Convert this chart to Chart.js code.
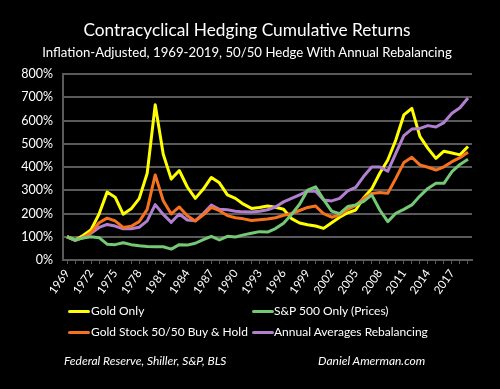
<!DOCTYPE html>
<html>
<head>
<meta charset="utf-8">
<script src="https://cdn.jsdelivr.net/npm/chart.js@4.4.1/dist/chart.umd.min.js"></script>
<style>
  html, body { margin: 0; padding: 0; background: #000; }
  #wrap { position: relative; width: 500px; height: 389px; background: #000; overflow: hidden; font-family: Lato, "Open Sans", sans-serif; color: #fff; }
  #c { position: absolute; left: 0; top: 0; }
  .t { position: absolute; white-space: nowrap; color: #fff; }
  #title { left: 0; width: 494px; text-align: center; top: 19px; font-size: 17.3px; }
  #sub { left: 0; width: 494px; text-align: center; top: 44px; font-size: 13.2px; }
  .lg { position: absolute; white-space: nowrap; font-size: 12px; color: #fff; }
  .sw { position: absolute; width: 22px; height: 3px; border-radius: 2px; }
  .ft { position: absolute; white-space: nowrap; font-size: 12px; font-style: italic; color: #fff; }
</style>
</head>
<body>
<div id="wrap">
  <canvas id="c" width="500" height="389"></canvas>
  <div class="t" id="title">Contracyclical Hedging Cumulative Returns</div>
  <div class="t" id="sub">Inflation-Adjusted, 1969-2019, 50/50 Hedge With Annual Rebalancing</div>
  <div id="legend"></div>
  <div class="ft" style="left:64px; top:353px;">Federal Reserve, Shiller, S&amp;P, BLS</div>
  <div class="ft" style="left:318px; top:353px;">Daniel Amerman.com</div>
</div>
<script>
const years = [1969,1970,1971,1972,1973,1974,1975,1976,1977,1978,
  1979,1980,1981,1982,1983,1984,1985,1986,1987,1988,
  1989,1990,1991,1992,1993,1994,1995,1996,1997,1998,
  1999,2000,2001,2002,2003,2004,2005,2006,2007,2008,
  2009,2010,2011,2012,2013,2014,2015,2016,2017,2018,2019];

const goldOnly = [100,86,105,130,198,292,270,197,220,264,
  373,668,455,348,385,314,265,305,355,332,
  280,265,240,222,226,232,227,218,178,159,
  152,146,136,160,184,203,215,268,306,373,
  430,516,624,652,532,480,437,468,460,452,488];

const sp500Only = [100,86,95,100,96,68,66,74,66,61,
  58,57,57,47,66,64,72,88,102,86,
  102,99,108,115,122,120,135,158,196,240,
  300,315,260,210,199,230,237,252,280,215,
  165,201,218,237,275,308,330,330,380,411,433];

const goldStock5050 = [100,86,95,118,160,180,168,140,145,165,
  218,366,255,198,228,190,168,194,226,212,
  191,182,177,170,173,176,182,192,200,213,
  226,232,199,184,194,218,235,265,286,290,
  287,351,419,442,409,399,387,401,423,440,463];

const annualRebalancing = [100,84,96,115,140,153,146,134,134,141,
  168,238,196,162,198,172,169,200,236,218,
  216,210,207,206,210,216,228,250,265,280,
  296,296,258,254,265,297,312,360,400,400,
  382,459,535,563,566,578,572,591,631,655,697];

const yTicks = [0,100,200,300,400,500,600,700,800];

const seriesNames = ["Gold Only","S&P 500 Only (Prices)","Gold Stock 50/50 Buy & Hold","Annual Averages Rebalancing"];
const seriesColors = ["#FFFF00","#74C876","#F7721E","#B07FCF"];
const seriesData = [goldOnly, sp500Only, goldStock5050, annualRebalancing];

const drawOrder = [1,2,3,0];

const datasets = drawOrder.map((i, n) => ({
  label: seriesNames[i],
  data: seriesData[i],
  borderColor: seriesColors[i],
  backgroundColor: seriesColors[i],
  borderWidth: 3,
  pointRadius: 0,
  tension: 0,
  fill: false,
  borderJoinStyle: 'round',
  order: n
}));

const gridCol = "#5a5a5a";

new Chart(document.getElementById('c'), {
  type: 'line',
  data: { labels: years, datasets },
  options: {
    responsive: false,
    animation: false,
    devicePixelRatio: 1,
    layout: { padding: { left: 0, right: 28, top: 74, bottom: 89 } },
    plugins: { legend: { display: false }, tooltip: { enabled: false }, title: { display: false } },
    scales: {
      x: {
        type: 'category',
        offset: true,
        grid: { display: true, drawOnChartArea: false, drawTicks: true, tickLength: 4, color: gridCol, offset: false },
        border: { display: true, color: gridCol, width: 2 },
        ticks: {
          autoSkip: false,
          maxRotation: 55,
          minRotation: 55,
          color: "#ffffff",
          padding: 3,
          font: { family: "Lato, 'Open Sans', sans-serif", size: 11.5 },
          callback: function(v, i) { return (i % 3 === 0) ? String(years[i]) : ''; }
        },
        afterFit: function(s) { s.height = 40; }
      },
      y: {
        min: 0, max: 800,
        afterBuildTicks: function(s) { s.ticks = yTicks.map(v => ({ value: v })); },
        grid: { color: gridCol, lineWidth: 2, drawTicks: false },
        border: { display: true, color: gridCol, width: 2 },
        ticks: {
          color: "#ffffff",
          padding: 10,
          font: { family: "Lato, 'Open Sans', sans-serif", size: 12.5 },
          callback: function(v) { return v + '%'; }
        },
        afterFit: function(s) { s.width = 63; }
      }
    }
  }
});

const legendPos = [
  { sx: 68, tx: 91, y: 311 },
  { sx: 252, tx: 274, y: 311 },
  { sx: 68, tx: 91, y: 332 },
  { sx: 252, tx: 274, y: 332 }
];
const lgEl = document.getElementById('legend');
seriesNames.forEach((name, i) => {
  const p = legendPos[i];
  const sw = document.createElement('div');
  sw.className = 'sw';
  sw.style.left = p.sx + 'px';
  sw.style.top = (p.y - 1) + 'px';
  sw.style.background = seriesColors[i];
  lgEl.appendChild(sw);
  const tx = document.createElement('div');
  tx.className = 'lg';
  tx.style.left = p.tx + 'px';
  tx.style.top = (p.y - 8) + 'px';
  tx.textContent = name;
  lgEl.appendChild(tx);
});
</script>
</body>
</html>
